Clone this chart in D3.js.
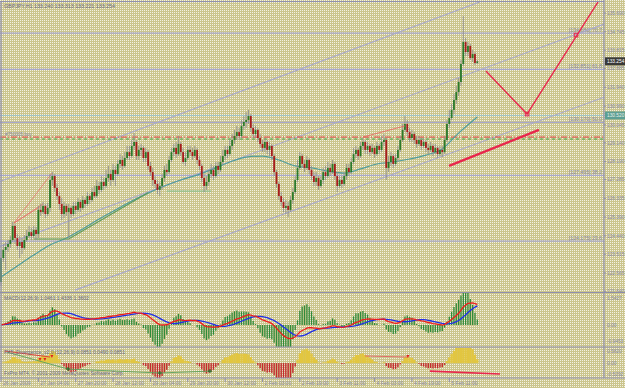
<!DOCTYPE html>
<html><head><meta charset="utf-8">
<script src="https://cdn.jsdelivr.net/npm/d3@7"></script>
<style>html,body{margin:0;padding:0;background:#fff}svg{display:block}</style>
</head><body>
<svg id="chart" width="625" height="388"></svg>
<script>
// ---------------- DATA ----------------
const opens=[122.11,123.32,123.73,123.88,124.03,124.23,124.94,124.33,123.93,124.13,
123.83,124.23,124.43,124.63,124.43,124.74,124.53,125.75,125.64,125.95,
125.54,125.85,127.26,127.46,126.86,126.45,126.05,125.54,125.95,125.64,
125.85,125.54,125.95,125.75,126.15,125.85,126.25,126.05,126.45,126.25,
126.65,126.45,126.96,126.76,127.16,126.96,127.36,127.56,127.26,127.77,
127.56,128.07,128.27,127.97,128.37,128.67,128.47,128.98,129.18,128.47,
128.78,128.88,128.37,128.67,127.97,127.66,127.26,127.06,126.76,126.96,
127.36,127.77,127.66,128.27,128.67,128.88,128.57,129.08,128.67,128.17,
128.37,128.78,128.67,128.47,128.78,128.27,127.97,127.36,126.96,127.16,
127.56,127.77,127.46,127.97,127.77,128.17,128.47,128.78,128.57,128.98,
129.28,129.48,129.68,129.48,129.99,130.19,130.29,130.49,129.89,129.58,
129.79,129.38,129.08,128.88,129.18,128.78,128.98,128.47,127.66,127.06,
126.45,126.15,125.85,125.95,125.75,126.25,126.65,127.26,127.87,128.47,
128.07,127.87,128.27,127.77,127.46,127.16,127.36,126.96,127.26,127.66,
127.46,127.87,127.66,128.07,127.46,126.96,127.26,127.06,127.46,127.87,
127.66,128.17,128.57,128.78,128.47,128.98,129.18,128.78,128.98,128.67,
128.88,128.57,128.98,128.78,129.18,129.28,127.87,128.17,128.47,128.07,
128.37,128.78,129.28,129.79,130.09,129.68,129.38,129.58,129.28,129.08,
129.28,128.98,129.18,128.88,128.78,128.98,128.67,128.88,128.57,128.78,
128.67,129.28,130.09,130.39,130.80,131.30,131.70,132.21,133.12,134.23,
133.72,134.03,133.42,133.62,133.17];
const highs=[123.73,124.03,124.13,124.23,124.43,125.14,125.04,124.53,124.43,124.33,
124.48,124.74,124.94,124.84,124.94,124.89,125.95,126.05,126.15,126.05,
126.10,127.56,127.66,127.56,127.06,126.65,126.35,126.15,126.05,126.05,
125.95,126.15,126.15,126.35,126.25,126.45,126.35,126.65,126.55,126.86,
126.96,127.26,127.16,127.46,127.36,127.77,127.97,127.77,128.07,127.97,
128.27,128.57,128.47,128.67,128.98,128.98,129.28,129.63,129.28,128.98,
129.08,128.98,128.88,128.78,128.17,127.87,127.46,127.26,127.16,127.56,
127.97,128.07,128.47,128.88,129.08,129.18,129.48,129.18,128.88,128.67,
128.98,128.98,128.88,128.98,128.88,128.47,128.07,127.56,127.46,127.77,
128.07,127.97,128.17,128.17,128.47,128.78,128.98,128.98,129.28,129.58,
129.79,129.99,129.89,130.29,130.49,130.69,130.80,130.59,130.09,129.99,
129.89,129.58,129.28,129.38,129.28,129.18,129.08,128.57,127.77,127.16,
126.65,126.35,126.25,126.15,126.45,126.86,127.46,128.27,128.67,128.57,
128.27,128.47,128.37,127.97,127.66,127.66,127.46,127.46,127.87,127.97,
128.17,128.07,128.27,128.17,127.66,127.46,127.46,127.66,128.07,128.07,
128.37,128.88,128.98,128.88,129.18,129.38,129.28,129.18,129.08,129.08,
128.98,129.18,129.08,129.48,129.58,129.38,128.47,128.67,128.57,128.57,
128.98,129.48,130.09,130.49,130.29,129.89,129.79,129.68,129.48,129.48,
129.38,129.38,129.28,129.08,129.18,129.08,129.08,128.98,128.98,128.98,
129.48,130.29,130.80,131.10,131.60,132.01,132.41,133.32,135.54,134.43,
134.23,134.13,133.83,133.72,133.32];
const lows=[121.91,123.12,122.72,123.62,123.83,124.13,124.03,123.73,123.32,123.52,
123.73,124.13,124.33,124.23,124.33,124.23,124.33,125.44,125.54,125.34,
125.44,125.64,126.96,126.65,126.25,125.75,125.24,125.34,125.44,124.33,
125.34,125.44,125.54,125.64,125.64,125.75,125.85,125.95,126.05,126.15,
126.35,126.35,126.55,126.65,126.76,126.86,127.16,126.96,127.16,126.96,
127.46,127.87,127.77,127.87,128.27,128.27,128.37,128.78,128.27,128.27,
128.47,128.17,128.17,127.77,127.46,126.96,126.86,126.55,126.45,126.76,
127.16,127.46,127.56,128.17,128.47,128.37,128.47,128.47,128.07,127.97,
128.27,128.47,128.27,128.37,128.07,127.77,127.16,126.65,126.76,126.96,
127.36,127.26,127.36,127.56,127.66,128.07,128.27,128.37,128.47,128.78,
129.08,129.28,129.28,129.38,129.79,129.89,130.09,129.68,129.38,129.38,
129.18,128.88,128.67,128.67,128.57,128.47,128.27,127.46,126.86,126.25,
125.95,125.64,125.54,125.39,125.64,126.05,126.55,127.16,127.77,127.87,
127.66,127.77,127.56,127.26,126.96,126.96,126.76,126.86,127.06,127.26,
127.36,127.46,127.56,127.26,126.65,126.86,126.86,126.96,127.26,127.46,
127.56,128.07,128.37,128.27,128.37,128.78,128.57,128.57,128.47,128.57,
128.37,128.47,128.57,128.67,128.98,127.26,127.66,127.97,127.87,127.97,
128.17,128.67,129.18,129.68,129.48,129.18,129.18,129.08,128.88,128.98,
128.78,128.88,128.67,128.57,128.67,128.47,128.57,128.37,128.47,128.42,
128.57,129.18,129.89,130.29,130.59,131.10,131.50,132.01,133.02,133.52,
133.52,133.32,133.22,133.07,133.12];
const closes=[123.32,123.73,123.88,124.03,124.23,124.94,124.33,123.93,124.13,123.83,
124.23,124.43,124.63,124.43,124.74,124.53,125.75,125.64,125.95,125.54,
125.85,127.26,127.46,126.86,126.45,126.05,125.54,125.95,125.64,125.85,
125.54,125.95,125.75,126.15,125.85,126.25,126.05,126.45,126.25,126.65,
126.45,126.96,126.76,127.16,126.96,127.36,127.56,127.26,127.77,127.56,
128.07,128.27,127.97,128.37,128.67,128.47,128.98,129.18,128.47,128.78,
128.88,128.37,128.67,127.97,127.66,127.26,127.06,126.76,126.96,127.36,
127.77,127.66,128.27,128.67,128.88,128.57,129.08,128.67,128.17,128.37,
128.78,128.67,128.47,128.78,128.27,127.97,127.36,126.96,127.16,127.56,
127.77,127.46,127.97,127.77,128.17,128.47,128.78,128.57,128.98,129.28,
129.48,129.68,129.48,129.99,130.19,130.29,130.49,129.89,129.58,129.79,
129.38,129.08,128.88,129.18,128.78,128.98,128.47,127.66,127.06,126.45,
126.15,125.85,125.95,125.75,126.25,126.65,127.26,127.87,128.47,128.07,
127.87,128.27,127.77,127.46,127.16,127.36,126.96,127.26,127.66,127.46,
127.87,127.66,128.07,127.46,126.96,127.26,127.06,127.46,127.87,127.66,
128.17,128.57,128.78,128.47,128.98,129.18,128.78,128.98,128.67,128.88,
128.57,128.98,128.78,129.18,129.28,127.87,128.17,128.47,128.07,128.37,
128.78,129.28,129.79,130.09,129.68,129.38,129.58,129.28,129.08,129.28,
128.98,129.18,128.88,128.78,128.98,128.67,128.88,128.57,128.78,128.67,
129.28,130.09,130.39,130.80,131.30,131.70,132.21,133.12,134.23,133.72,
134.03,133.42,133.62,133.17,133.25];

// moving average: [bar index, price]
const maTeal=[[0,122.36],[7,122.92],[14,123.47],[21,123.98],[28,124.33],[35,124.79],[42,125.29],
[49,125.75],[56,126.20],[63,126.60],[70,126.96],[77,127.26],[84,127.51],[91,127.82],[98,128.17],
[105,128.42],[112,128.47],[119,128.27],[126,127.97],[133,127.87],[140,127.71],[147,127.61],
[154,127.82],[161,128.07],[168,128.17],[175,128.32],[182,128.52],[189,128.83],[196,129.63],[204,130.44]];
const supportLine=[[14,124.28],[29,124.28],[63,126.62]];
const supportFlat=[[71,126.70],[90,126.70]];

const priceTicks=[135.690,134.745,133.815,132.885,131.940,130.990,130.045,129.140,128.190,127.285,126.335,125.390,124.440,123.515,122.565,121.640];
const timeTickBars=[0,16,32,48,64,80,96,112,128,144,160,176,192];
const timeLabels=["26 Jan 2009","27 Jan 04:00","27 Jan 20:00","28 Jan 12:00","29 Jan 04:00","29 Jan 20:00","30 Jan 12:00","2 Feb 03:00","2 Feb 19:00","3 Feb 11:00","4 Feb 03:00","4 Feb 19:00","5 Feb 11:00"];

const fibPrices=[134.680,132.851,130.170,127.495,124.175];
const fibLabels=["[134.680]  70.7","[132.851]  61.8","[130.170]  50.0","[127.495]  38.2","[124.175]  23.6"];
const markerLine=130.52, markerLabel="130.520";
const lastPrice=133.254;
const orderRed=129.43, orderGreen=129.33, orderLabel="#750005 buy";

const channelLines=[[[-1,127.16],[205,136.25]],[[-1,123.88],[258.5,135.14]],[[31.7,121.70],[258.5,131.45]]];
const redForecast=[[207.7,132.76],[225.3,130.59],[255.7,136.25]];
const redMarks=[[225.3,130.59],[246.3,134.58]];
const redThick=[[191.9,127.97],[230.4,129.79]];
const redThin=[[155,129.43],[173,129.99]];
const pinkFan=[[[5.6,125.09],[21.8,127.61]],[[5.6,125.09],[18.0,126.05]],[[5.6,125.09],[16.6,125.90]]];

const macdTicks=[[1.5427,"1.5427"],[0,"0.00"],[-0.9453,"-0.9453"]];
const oscTicks=[[0.5820,"0.5820"],[0,"0.00"],[-0.5292,"-0.5292"]];
const oscRedLine=[[1.7,0.58],[21,0.29]];
const oscRedArrows=[[16.7,0.145],[18.8,0.145],[21.8,0.29],[174.3,0.29]];
const oscRedSeg=[[155.9,0.34],[174.3,0.29]];
const oscGreenLine=[[2.6,0.53],[28.7,-0.29],[68,-0.48],[89.5,-0.39]];
const oscThick=[[183.7,-0.39],[213.7,-0.53]];

const titleText="GBPJPY,H1  133.240 133.313 133.221 133.254";
const macdTitle="MACD(12,26,9) 1.0461 1.4336 1.3602";
const oscTitle="FX5_Divergence_v2.0 (12,26,9) 0.0851 0.0490 0.0851";
const copyright="FxPro MT4, \u00a9 2001-2009 MetaQuotes Software Corp.";

// ---------------- LAYOUT ----------------
const W=625,H=388, XR=604;
const mainTop=2, mainBot=292, macdTop=293, macdBot=347, oscTop=348, oscBot=378;
const svg=d3.select("#chart");
const FONT="'Liberation Sans', Arial, sans-serif";
const axisCol="#8a8aa6", frameCol="#8f8fae", lineCol="#a8a8cc";

const defs=svg.append("defs");
const pat=defs.append("pattern").attr("id","dither").attr("width",2).attr("height",2).attr("patternUnits","userSpaceOnUse");
pat.append("rect").attr("width",2).attr("height",2).attr("fill","#cbc58d");
pat.append("rect").attr("width",1).attr("height",1).attr("fill","#f3f1e2");
svg.append("rect").attr("width",W).attr("height",H).attr("fill","url(#dither)");

const x=d3.scaleLinear().domain([0,204]).range([1,477.3]);
const y=d3.scaleLinear().domain([121.6,136.35]).range([292.1,0]);

const clipMain=defs.append("clipPath").attr("id","clipMain");
clipMain.append("rect").attr("x",0).attr("y",mainTop).attr("width",XR).attr("height",mainBot-mainTop);
const clipMacd=defs.append("clipPath").attr("id","clipMacd");
clipMacd.append("rect").attr("x",0).attr("y",macdTop).attr("width",XR).attr("height",macdBot-macdTop);
const clipOsc=defs.append("clipPath").attr("id","clipOsc");
clipOsc.append("rect").attr("x",0).attr("y",oscTop).attr("width",XR).attr("height",oscBot-oscTop);

const gMain=svg.append("g").attr("clip-path","url(#clipMain)");
const line=(xs,ys)=>d3.line().x(d=>xs(d[0])).y(d=>ys(d[1]));

// horizontal fib lines
fibPrices.forEach((p,k)=>{
  gMain.append("line").attr("x1",0).attr("x2",XR).attr("y1",y(p)).attr("y2",y(p)).attr("stroke",lineCol).attr("stroke-width",1.2);
  gMain.append("text").attr("x",XR-2).attr("y",y(p)-1.5).attr("text-anchor","end").attr("font-family",FONT).attr("font-size",5.2).attr("fill",axisCol).text(fibLabels[k]);
});
gMain.append("line").attr("x1",0).attr("x2",XR).attr("y1",y(markerLine)).attr("y2",y(markerLine)).attr("stroke","#9cc4c8").attr("stroke-width",1);

// channel lines
channelLines.forEach(c=>gMain.append("path").attr("d",line(x,y)(c)).attr("fill","none").attr("stroke",lineCol).attr("stroke-width",1.1));

// order lines
gMain.append("line").attr("x1",0).attr("x2",XR).attr("y1",y(orderRed)).attr("y2",y(orderRed)).attr("stroke","#e04040").attr("stroke-width",1).attr("stroke-dasharray","6,2,1,2");
gMain.append("line").attr("x1",0).attr("x2",XR).attr("y1",y(orderGreen)).attr("y2",y(orderGreen)).attr("stroke","#40a040").attr("stroke-width",1).attr("stroke-dasharray","3,3");
gMain.append("text").attr("x",5).attr("y",y(orderRed)-1.5).attr("font-family",FONT).attr("font-size",4.6).attr("fill","#8a8aa6").text(orderLabel);

// moving average and support
gMain.append("path").attr("d",line(x,y).curve(d3.curveMonotoneX)(maTeal)).attr("fill","none").attr("stroke","#4f9c9c").attr("stroke-width",1.2);
gMain.append("path").attr("d",line(x,y)(supportLine)).attr("fill","none").attr("stroke","#5c9a5c").attr("stroke-width",1.1);
gMain.append("path").attr("d",line(x,y)(supportFlat)).attr("fill","none").attr("stroke","#8fc08f").attr("stroke-width",1.1);

// pink fan
pinkFan.forEach(f=>gMain.append("path").attr("d",line(x,y)(f)).attr("fill","none").attr("stroke","#e86a6a").attr("stroke-width",0.7));

// candles
const bars=closes.map((c,i)=>({i,o:opens[i],h:highs[i],l:lows[i],c}));
const gC=gMain.append("g");
gC.selectAll("line.w").data(bars).join("line").attr("class","w")
  .attr("x1",d=>x(d.i)).attr("x2",d=>x(d.i)).attr("y1",d=>y(d.h)).attr("y2",d=>y(d.l))
  .attr("stroke","#8e8e8e").attr("stroke-width",0.9);
gC.selectAll("rect.b").data(bars).join("rect").attr("class","b")
  .attr("x",d=>x(d.i)-0.9).attr("width",1.8)
  .attr("y",d=>y(Math.max(d.o,d.c))).attr("height",d=>Math.max(0.8,Math.abs(y(d.o)-y(d.c))))
  .attr("fill",d=>d.c>=d.o?"#2a7a2a":"#a81c1c");

// red drawings
gMain.append("path").attr("d",line(x,y)(redForecast)).attr("fill","none").attr("stroke","#e8264c").attr("stroke-width",1.4);
redMarks.forEach(m=>gMain.append("rect").attr("x",x(m[0])-1.8).attr("y",y(m[1])-1.8).attr("width",3.6).attr("height",3.6).attr("fill","none").attr("stroke","#e8264c").attr("stroke-width",1));
gMain.append("path").attr("d",line(x,y)(redThick)).attr("fill","none").attr("stroke","#e8264c").attr("stroke-width",2.4);
gMain.append("path").attr("d",line(x,y)(redThin)).attr("fill","none").attr("stroke","#e86060").attr("stroke-width",0.8);

// title
svg.append("text").attr("x",4).attr("y",8).attr("font-family",FONT).attr("font-size",5.3).attr("fill","#6a6a88").text(titleText);

// ---------------- MACD ----------------
function ema(a,n){const k=2/(n+1);const o=[];a.forEach((v,i)=>o.push(i?o[i-1]+k*(v-o[i-1]):v));return o;}
const e12=ema(closes,12), e26=ema(closes,26);
const macd=e12.map((v,i)=>v-e26[i]);
const signal=macd.map((v,i)=>d3.mean(macd.slice(Math.max(0,i-8),i+1)));
const osma=macd.map((v,i)=>v-signal[i]);

const ym=d3.scaleLinear().domain([-0.9453,1.5427]).range([341.2,298.5]);
const gM=svg.append("g").attr("clip-path","url(#clipMacd)");
gM.selectAll("line").data(osma).join("line")
  .attr("x1",(d,i)=>x(i)).attr("x2",(d,i)=>x(i)).attr("y1",ym(0)).attr("y2",d=>ym(d*3.5))
  .attr("stroke","#2f8a3a").attr("stroke-width",1.3);
gM.append("path").attr("d",d3.line().x((d,i)=>x(i)).y(d=>ym(d))(signal)).attr("fill","none").attr("stroke","#1f2ee8").attr("stroke-width",1.3);
gM.append("path").attr("d",d3.line().x((d,i)=>x(i)).y(d=>ym(d))(macd)).attr("fill","none").attr("stroke","#ee1c1c").attr("stroke-width",1.3);
svg.append("text").attr("x",4).attr("y",300).attr("font-family",FONT).attr("font-size",5).attr("fill","#6a6a88").text(macdTitle);

// ---------------- OSCILLATOR ----------------
const yo=d3.scaleLinear().domain([-0.5292,0.5820]).range([374,351]);
const gO=svg.append("g").attr("clip-path","url(#clipOsc)");
gO.selectAll("rect").data(osma).join("rect")
  .attr("x",(d,i)=>x(i)-(d>=0?1.2:0.7)).attr("width",d=>d>=0?2.4:1.4)
  .attr("y",d=>d>=0?yo(d*2):yo(0)).attr("height",d=>Math.abs(yo(d*2)-yo(0)))
  .attr("fill",d=>d>=0?"#e2c640":"#c42a2e");
gO.append("path").attr("d",line(x,yo)(oscRedLine)).attr("fill","none").attr("stroke","#e03030").attr("stroke-width",0.9);
gO.append("path").attr("d",line(x,yo)(oscRedSeg)).attr("fill","none").attr("stroke","#e06060").attr("stroke-width",0.9);
gO.append("path").attr("d",line(x,yo)(oscGreenLine)).attr("fill","none").attr("stroke","#5aa05a").attr("stroke-width",0.9);
oscGreenLine.slice(1).forEach(p=>{
  const cx=x(p[0]), cy=yo(p[1]);
  gO.append("path").attr("d",`M${cx-2},${cy}H${cx+2}M${cx},${cy-2}V${cy+2}`).attr("stroke","#2a6a2a").attr("stroke-width",1.1);
});
oscRedArrows.forEach(p=>gO.append("path").attr("d",`M${x(p[0])-1.5},${yo(p[1])-2}L${x(p[0])+1.5},${yo(p[1])-2}L${x(p[0])},${yo(p[1])+1}Z`).attr("fill","#e02020"));
gO.append("path").attr("d",line(x,yo)(oscThick)).attr("fill","none").attr("stroke","#e8264c").attr("stroke-width",1.6);
svg.append("text").attr("x",4).attr("y",354).attr("font-family",FONT).attr("font-size",5).attr("fill","#6a6a88").text(oscTitle);
svg.append("text").attr("x",4).attr("y",375).attr("font-family",FONT).attr("font-size",5).attr("fill","#6a6a88").text(copyright);

// ---------------- FRAME ----------------
const fr=svg.append("g").attr("stroke",frameCol).attr("stroke-width",1.2);
fr.append("line").attr("x1",0).attr("x2",XR).attr("y1",1.5).attr("y2",1.5);
fr.append("line").attr("x1",1).attr("x2",1).attr("y1",1).attr("y2",oscBot);
fr.append("line").attr("x1",XR).attr("x2",XR).attr("y1",0).attr("y2",oscBot);
[mainBot+0.5,macdBot,oscBot].forEach(v=>fr.append("line").attr("x1",0).attr("x2",W).attr("y1",v).attr("y2",v));

// price axis
const pa=svg.append("g").attr("transform",`translate(${XR},0)`);
pa.selectAll("line").data(priceTicks).join("line").attr("x1",0).attr("x2",2).attr("y1",d=>y(d)).attr("y2",d=>y(d)).attr("stroke",frameCol);
pa.selectAll("text").data(priceTicks).join("text").attr("x",3).attr("y",d=>y(d)+1.8)
  .attr("font-family",FONT).attr("font-size",4.8).attr("fill",axisCol).text(d=>d.toFixed(3));
pa.append("rect").attr("x",1).attr("y",y(markerLine)-4).attr("width",20).attr("height",8).attr("fill","#5d9f94");
pa.append("text").attr("x",3).attr("y",y(markerLine)+1.8).attr("font-family",FONT).attr("font-size",4.8).attr("fill","#e8f0e8").text(markerLabel);
pa.append("rect").attr("x",1).attr("y",y(lastPrice)-4).attr("width",20).attr("height",8).attr("fill","#3a3a3a");
pa.append("text").attr("x",3).attr("y",y(lastPrice)+1.8).attr("font-family",FONT).attr("font-size",4.8).attr("fill","#ffffff").text(lastPrice.toFixed(3));

// macd & osc axes
const ma=svg.append("g").attr("transform",`translate(${XR},0)`);
macdTicks.forEach(t=>ma.append("text").attr("x",3).attr("y",ym(t[0])+1.8).attr("font-family",FONT).attr("font-size",4.8).attr("fill",axisCol).text(t[1]));
oscTicks.forEach(t=>ma.append("text").attr("x",3).attr("y",yo(t[0])+1.8).attr("font-family",FONT).attr("font-size",4.8).attr("fill",axisCol).text(t[1]));

// time axis
const ta=svg.append("g");
timeTickBars.forEach((b,k)=>{
  ta.append("line").attr("x1",x(b)).attr("x2",x(b)).attr("y1",oscBot).attr("y2",oscBot+4).attr("stroke",frameCol);
  ta.append("text").attr("x",x(b)+2).attr("y",385).attr("font-family",FONT).attr("font-size",5).attr("fill",axisCol).text(timeLabels[k]);
});
</script>
</body></html>
